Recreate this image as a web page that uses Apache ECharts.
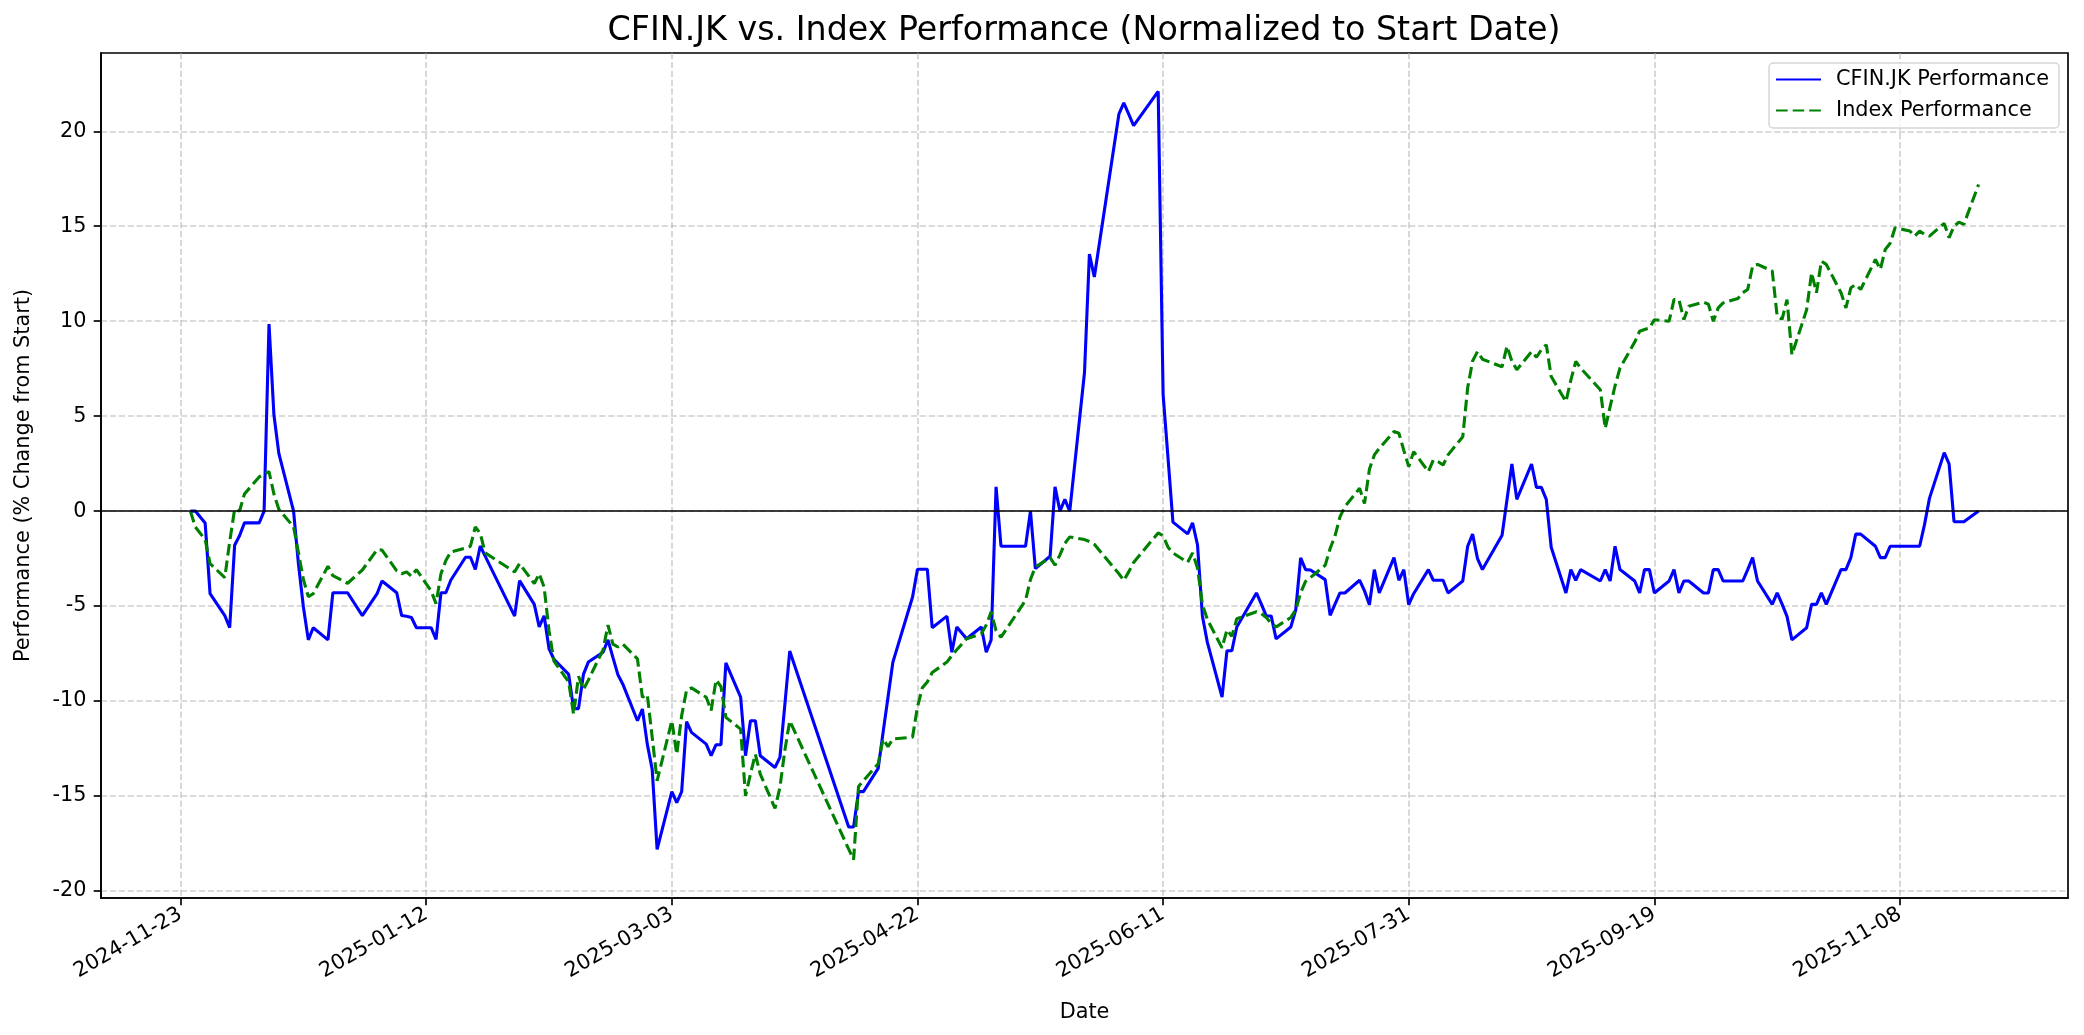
<!DOCTYPE html>
<html><head><meta charset="utf-8">
<script src="https://cdn.jsdelivr.net/npm/echarts@6/dist/echarts.min.js"></script>
<style>html,body{margin:0;padding:0;background:#fff}#c{width:2084px;height:1035px}</style>
</head><body><div id="c"></div>
<script>
const dates = [
'2024-11-25','2024-11-26','2024-11-28','2024-11-29',
'2024-12-02','2024-12-03','2024-12-04','2024-12-05','2024-12-06','2024-12-09','2024-12-10','2024-12-11','2024-12-12','2024-12-13','2024-12-16','2024-12-17','2024-12-18','2024-12-19','2024-12-20','2024-12-23','2024-12-24','2024-12-27','2024-12-30',
'2025-01-02','2025-01-03','2025-01-06','2025-01-07','2025-01-08','2025-01-09','2025-01-10','2025-01-13','2025-01-14','2025-01-15','2025-01-16','2025-01-17','2025-01-20','2025-01-21','2025-01-22','2025-01-23','2025-01-24','2025-01-30','2025-01-31',
'2025-02-03','2025-02-04','2025-02-05','2025-02-06','2025-02-07','2025-02-10','2025-02-11','2025-02-12','2025-02-13','2025-02-14','2025-02-17','2025-02-18','2025-02-19','2025-02-20','2025-02-21','2025-02-24','2025-02-25','2025-02-26','2025-02-27','2025-02-28',
'2025-03-03','2025-03-04','2025-03-05','2025-03-06','2025-03-07','2025-03-10','2025-03-11','2025-03-12','2025-03-13','2025-03-14','2025-03-17','2025-03-18','2025-03-19','2025-03-20','2025-03-21','2025-03-24','2025-03-25','2025-03-26','2025-03-27',
'2025-04-08','2025-04-09','2025-04-10','2025-04-11','2025-04-14','2025-04-15','2025-04-16','2025-04-17','2025-04-21','2025-04-22','2025-04-23','2025-04-24','2025-04-25','2025-04-28','2025-04-29','2025-04-30',
'2025-05-02','2025-05-05','2025-05-06','2025-05-07','2025-05-08','2025-05-09','2025-05-14','2025-05-15','2025-05-16','2025-05-19','2025-05-20','2025-05-21','2025-05-22','2025-05-23','2025-05-26','2025-05-27','2025-05-28',
'2025-06-02','2025-06-03','2025-06-04','2025-06-05','2025-06-10','2025-06-11','2025-06-12','2025-06-13','2025-06-16','2025-06-17','2025-06-18','2025-06-19','2025-06-20','2025-06-23','2025-06-24','2025-06-25','2025-06-26','2025-06-30',
'2025-07-01','2025-07-02','2025-07-03','2025-07-04','2025-07-07','2025-07-08','2025-07-09','2025-07-10','2025-07-11','2025-07-14','2025-07-15','2025-07-16','2025-07-17','2025-07-18','2025-07-21','2025-07-22','2025-07-23','2025-07-24','2025-07-25','2025-07-28','2025-07-29','2025-07-30','2025-07-31',
'2025-08-01','2025-08-04','2025-08-05','2025-08-06','2025-08-07','2025-08-08','2025-08-11','2025-08-12','2025-08-13','2025-08-14','2025-08-15','2025-08-19','2025-08-20','2025-08-21','2025-08-22','2025-08-25','2025-08-26','2025-08-27','2025-08-28','2025-08-29',
'2025-09-01','2025-09-02','2025-09-03','2025-09-04','2025-09-08','2025-09-09','2025-09-10','2025-09-11','2025-09-12','2025-09-15','2025-09-16','2025-09-17','2025-09-18','2025-09-19','2025-09-22','2025-09-23','2025-09-24','2025-09-25','2025-09-26','2025-09-29','2025-09-30',
'2025-10-01','2025-10-02','2025-10-03','2025-10-06','2025-10-07','2025-10-08','2025-10-09','2025-10-10','2025-10-13','2025-10-14','2025-10-15','2025-10-16','2025-10-17','2025-10-20','2025-10-21','2025-10-22','2025-10-23','2025-10-24','2025-10-27','2025-10-28','2025-10-29','2025-10-30','2025-10-31',
'2025-11-03','2025-11-04','2025-11-05','2025-11-06','2025-11-07','2025-11-10','2025-11-11','2025-11-12','2025-11-13','2025-11-14','2025-11-17','2025-11-18','2025-11-19','2025-11-20','2025-11-21','2025-11-24'
];
const cfinValues = [
0,0,-0.62,-4.35,
-5.5,-6.14,-1.8,-1.3,-0.62,-0.62,0,9.85,5.07,3.04,0,-2.8,-5.05,-6.78,-6.14,-6.78,-4.3,-4.3,-5.5,
-4.35,-3.68,-4.3,-5.5,-5.54,-5.6,-6.14,-6.14,-6.75,-4.3,-4.3,-3.64,-2.43,-2.43,-3.07,-1.84,-2.37,-5.53,-3.66,
-4.91,-6.1,-5.51,-7.25,-7.8,-8.6,-10.4,-10.4,-8.6,-7.95,-7.43,-6.78,-7.7,-8.6,-9.1,-11.04,-10.42,-12.27,-13.6,-17.81,
-14.77,-15.35,-14.77,-11.09,-11.65,-12.27,-12.88,-12.3,-12.3,-7.99,-9.8,-12.88,-11.04,-11.04,-12.88,-13.5,-12.97,-10.2,-7.37,
-16.63,-16.63,-14.77,-14.77,-13.55,-11.65,-9.8,-7.95,-4.52,-3.06,-3.06,-3.06,-6.14,-5.53,-7.43,-6.1,
-6.72,-6.1,-7.43,-6.78,1.28,-1.85,-1.85,0,-3.03,-2.38,1.28,0,0.62,0,7.3,13.54,12.33,
20.9,21.5,20.9,20.3,22.1,6.15,2.8,-0.58,-1.2,-0.62,-1.77,-5.52,-6.9,-9.79,-7.35,-7.35,-6.1,-4.31,
-4.9,-5.52,-5.52,-6.73,-6.1,-5.2,-2.46,-3.08,-3.1,-3.61,-5.49,-4.9,-4.31,-4.31,-3.64,-4.2,-4.93,-3.08,-4.31,-2.45,-3.64,-3.08,-4.93,
-4.35,-3.08,-3.64,-3.64,-3.64,-4.31,-3.68,-1.85,-1.21,-2.5,-3.08,-1.27,0.6,2.48,0.62,2.48,1.25,1.25,0.62,-1.9,
-4.31,-3.08,-3.64,-3.08,-3.68,-3.08,-3.68,-1.85,-3.08,-3.68,-4.31,-3.08,-3.08,-4.31,-3.68,-3.08,-4.31,-3.68,-3.68,-4.31,-4.31,
-3.08,-3.08,-3.68,-3.68,-3.68,-3.08,-2.45,-3.68,-4.91,-4.31,-4.9,-5.54,-6.78,-6.14,-4.91,-4.91,-4.31,-4.91,-3.08,-3.08,-2.45,-1.21,-1.21,
-1.85,-2.45,-2.45,-1.85,-1.85,-1.85,-1.85,-1.85,-0.7,0.67,3.08,2.48,-0.56,-0.56,-0.56,0
];
const indexValues = [
0,-0.83,-1.5,-2.76,
-3.5,-1.6,0.1,0.0,0.9,1.8,1.95,2.08,0.9,0.1,-0.83,-2.2,-3.6,-4.5,-4.35,-2.9,-3.4,-3.8,-3.1,
-2.03,-2.05,-3.15,-3.3,-3.2,-3.43,-3.08,-4.2,-4.87,-3.3,-2.6,-2.15,-1.95,-1.85,-0.83,-1.18,-2.2,-3.2,-2.76,
-3.82,-3.3,-4.0,-6.3,-7.9,-9.0,-10.7,-8.7,-9.4,-8.9,-7.3,-6.0,-7.0,-7.15,-7.0,-7.78,-9.8,-9.66,-11.9,-14.2,
-11.04,-12.8,-10.77,-9.42,-9.31,-9.8,-10.5,-8.89,-9.24,-10.86,-11.48,-14.99,-13.85,-12.8,-13.85,-15.65,-14.55,-12.6,-11.04,
-17.8,-18.35,-14.5,-14.2,-13.3,-12.0,-12.4,-12.0,-11.9,-10.3,-9.3,-9.0,-8.5,-7.95,-7.6,-7.3,
-6.72,-6.46,-6.0,-5.3,-6.3,-6.64,-4.7,-3.6,-2.94,-2.45,-2.85,-2.3,-1.7,-1.36,-1.5,-1.6,-1.75,
-3.3,-3.65,-3.2,-2.7,-1.15,-1.3,-1.9,-2.2,-2.7,-2.2,-3.0,-4.9,-5.7,-7.2,-6.25,-6.6,-5.67,-5.3,
-5.4,-5.6,-5.9,-6.1,-5.6,-5.2,-4.3,-3.7,-3.5,-2.85,-1.97,-1.3,-0.3,0.23,1.2,0.4,2.2,2.96,3.3,4.19,4.1,3.2,2.34,
3.13,2.08,2.69,2.6,2.43,2.96,3.92,6.5,7.9,8.4,8.0,7.6,8.68,7.9,7.44,8.4,8.1,8.5,8.76,7.09,
5.77,6.9,7.88,7.53,6.39,4.36,5.5,6.6,7.53,8.9,9.47,9.56,9.64,10.08,10.0,11.14,11.14,10.08,10.79,11.0,10.9,
10.0,10.7,10.96,11.2,11.5,11.67,12.9,12.99,12.64,10.26,10.1,11.14,8.24,10.6,12.55,11.5,13.16,12.99,11.5,10.7,11.76,11.93,11.67,
13.25,12.72,13.78,14.1,14.92,14.75,14.48,14.75,14.57,14.48,15.15,14.4,15.0,15.22,15.1,17.2
];
const xTickLabels = ['2024-11-23','2025-01-12','2025-03-03','2025-04-22','2025-06-11','2025-07-31','2025-09-19','2025-11-08'];
const yTicks = [-20,-15,-10,-5,0,5,10,15,20];

const DAY_MS = 86400000;
const DAY0 = Date.parse(xTickLabels[0]);
const toDay = s => (Date.parse(s) - DAY0) / DAY_MS;
const fromDay = d => new Date(DAY0 + Math.round(d) * DAY_MS).toISOString().slice(0, 10);
const xTickDays = xTickLabels.map(toDay);
const dayVals = dates.map(toDay);

const allVals = cfinValues.concat(indexValues);
const yLo = Math.min(...allVals), yHi = Math.max(...allVals);
const yPad = (yHi - yLo) * 0.05;
const xLo = dayVals[0], xHi = dayVals[dayVals.length - 1];
const xPad = (xHi - xLo) * 0.05;

const FONT = 'DejaVu Sans';
const FS = 20.8;
const gridLine = { show: true, lineStyle: { color: 'rgba(176,176,176,0.6)', width: 1.67, type: [6.2, 2.7] } };
const spine = { color: '#000', width: 1.67 };

const chart = echarts.init(document.getElementById('c'));
chart.setOption({
  animation: false,
  backgroundColor: '#ffffff',
  title: {
    text: 'CFIN.JK vs. Index Performance (Normalized to Start Date)',
    left: 1084, top: 15, textAlign: 'center', padding: 0,
    textStyle: { fontFamily: FONT, fontSize: 33.3, fontWeight: 'normal', color: '#000' }
  },
  legend: {
    orient: 'vertical', right: 25, top: 63,
    itemWidth: 45, itemHeight: 14, itemGap: 10,
    padding: [6, 10, 7, 6],
    borderColor: '#d6d6d6', borderWidth: 1.5, borderRadius: 4,
    backgroundColor: 'rgba(255,255,255,0.8)',
    itemStyle: { opacity: 0 },
    textStyle: { fontFamily: FONT, fontSize: FS, color: '#000', padding: [0, 0, 0, 10] },
    data: ['CFIN.JK Performance', 'Index Performance']
  },
  grid: { left: 101, right: 16, top: 53, bottom: 137, show: true, borderColor: '#000', borderWidth: 1.67, backgroundColor: 'transparent', outerBoundsMode: 'none' },
  xAxis: {
    type: 'value', min: xLo - xPad, max: xHi + xPad, splitNumber: 8,
    name: 'Date', nameLocation: 'middle', nameGap: 104,
    nameTextStyle: { fontFamily: FONT, fontSize: FS, color: '#000' },
    axisLine: { show: true, onZero: false, lineStyle: spine },
    axisTick: { show: true, length: 7.3, lineStyle: spine, customValues: xTickDays },
    axisLabel: { rotate: 30, margin: 14.6, fontFamily: FONT, fontSize: FS, color: '#000', customValues: xTickDays, formatter: v => fromDay(v) },
    splitLine: gridLine
  },
  yAxis: {
    type: 'value', min: yLo - yPad, max: yHi + yPad, splitNumber: 9,
    name: 'Performance (% Change from Start)', nameLocation: 'middle', nameGap: 67, nameRotate: 90,
    nameTextStyle: { fontFamily: FONT, fontSize: FS, color: '#000' },
    axisLine: { show: true, onZero: false, lineStyle: spine },
    axisTick: { show: true, length: 7.3, lineStyle: spine, customValues: yTicks },
    axisLabel: { margin: 14.6, fontFamily: FONT, fontSize: FS, color: '#000', customValues: yTicks, formatter: v => String(v) },
    splitLine: gridLine
  },
  series: [
    {
      name: 'CFIN.JK Performance', type: 'line', symbol: 'none', z: 3,
      data: dayVals.map((d, i) => [d, cfinValues[i]]),
      lineStyle: { color: '#0000ff', width: 3.1 }, itemStyle: { color: '#0000ff' },
      markLine: {
        silent: true, symbol: ['none', 'none'], label: { show: false }, animation: false,
        lineStyle: { color: '#000', width: 1.5, type: 'solid' },
        data: [{ yAxis: 0 }]
      }
    },
    {
      name: 'Index Performance', type: 'line', symbol: 'none', z: 3,
      data: dayVals.map((d, i) => [d, indexValues[i]]),
      lineStyle: { color: '#008000', width: 3.1, type: [11.6, 5] }, itemStyle: { color: '#008000' }
    }
  ]
});
</script></body></html>
